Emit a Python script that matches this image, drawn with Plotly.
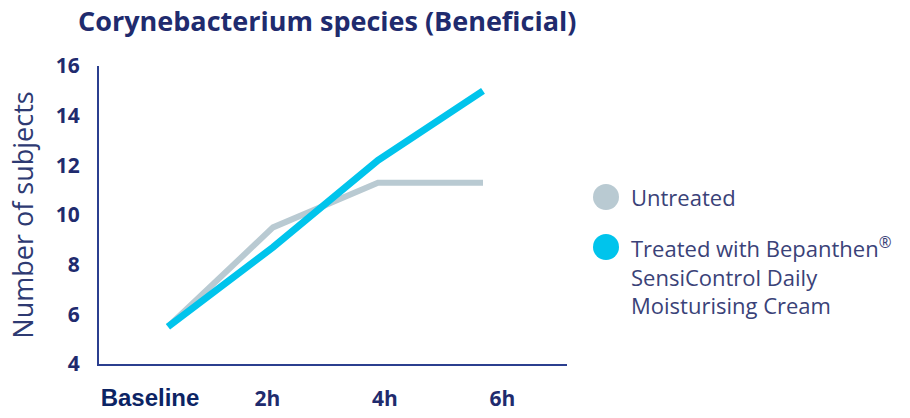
import plotly.graph_objects as go

# ---- data ----
timepoints = ["Baseline", "2h", "4h", "6h"]
untreated = [5.5, 9.5, 11.3, 11.3]
treated = [5.5, 8.7, 12.2, 15.0]
y_ticks = [4, 6, 8, 10, 12, 14, 16]
series_names = ["Untreated", "Treated with Bepanthen®<br>SensiControl Daily<br>Moisturising Cream"]

# ---- style ----
W, H = 910, 418
ML, MR, MT, MB = 99, 343, 66, 54
NAVY = "#1f2b6e"
AXIS = "#2b3f8f"
GREY = "#b9cad2"
CYAN = "#00c4ec"
FONT = "Open Sans"

idx = list(range(len(timepoints)))

fig = go.Figure()
fig.add_trace(go.Scatter(x=idx, y=untreated, mode="lines", name=series_names[0],
                         line=dict(color=GREY, width=6), showlegend=False, hoverinfo="skip"))
fig.add_trace(go.Scatter(x=idx, y=treated, mode="lines", name=series_names[1],
                         line=dict(color=CYAN, width=7), showlegend=False, hoverinfo="skip"))
# invisible trace carrying the tick-label axis
fig.add_trace(go.Scatter(x=idx, y=[None] * len(idx), xaxis="x2", mode="markers",
                         showlegend=False, hoverinfo="skip"))

ticktext = []
for t in timepoints:
    if t == "Baseline":
        ticktext.append("<span style='font-family:Liberation Sans;font-size:24px;color:#0c2464'><b>%s</b></span>" % t)
    else:
        ticktext.append("<b>%s</b>" % t)

fig.update_layout(
    width=W, height=H,
    margin=dict(l=ML, r=MR, t=MT, b=MB, autoexpand=False),
    paper_bgcolor="white", plot_bgcolor="white",
    showlegend=False,
    title=dict(text="<b>Corynebacterium species (Beneficial)</b>",
               x=78 / W, xanchor="left", xref="container",
               y=1 - 22 / H, yanchor="middle", yref="container",
               font=dict(family=FONT, size=27, color=NAVY)),
    xaxis=dict(range=[-0.657, 3.8], showgrid=False, zeroline=False,
               showline=True, linecolor=AXIS, linewidth=2,
               showticklabels=False, ticks="", automargin=False),
    xaxis2=dict(range=[-0.434, 3.549], overlaying="x", side="bottom", anchor="y",
                showgrid=False, zeroline=False, showline=False, automargin=False,
                tickvals=idx, ticktext=ticktext, ticks="", ticklabelstandoff=20,
                tickfont=dict(family=FONT, size=21, color=NAVY)),
    yaxis=dict(range=[4, 16], tickvals=y_ticks, showgrid=False, zeroline=False,
               showline=True, linecolor=AXIS, linewidth=2, ticks="",
               ticklabelstandoff=13, automargin=False,
               tickfont=dict(family=FONT, size=21, color=NAVY, weight="bold"),
               title=dict(text="Number of subjects", standoff=14,
                          font=dict(family=FONT, size=27, color="#2e3a72"))),
)

# ---- manual legend (circles + labels) ----
pw = W - ML - MR
ph = H - MT - MB
def px(x):
    return (x - ML) / pw
def py(y):
    return (H - MB - y) / ph

LEG_SIZE = 22
legend_rows = [(197, GREY, series_names[0]), (247, CYAN, series_names[1])]
for yc, col, name in legend_rows:
    fig.add_shape(type="circle", xref="paper", yref="paper",
                  xsizemode="pixel", ysizemode="pixel",
                  xanchor=px(606), yanchor=py(yc),
                  x0=-13, x1=13, y0=-13, y1=13,
                  fillcolor=col, line=dict(width=0))
    fig.add_annotation(xref="paper", yref="paper", x=px(629), y=py(yc - LEG_SIZE * 0.65 - 3),
                       xanchor="left", yanchor="top", align="left", valign="top",
                       showarrow=False,
                       text=name.replace("®", "<sup>®</sup>"),
                       font=dict(family=FONT, size=LEG_SIZE, color="#3a4278"))

fig.write_html("out.html", config={"displayModeBar": False},
               post_script="document.body.style.margin='0';")
